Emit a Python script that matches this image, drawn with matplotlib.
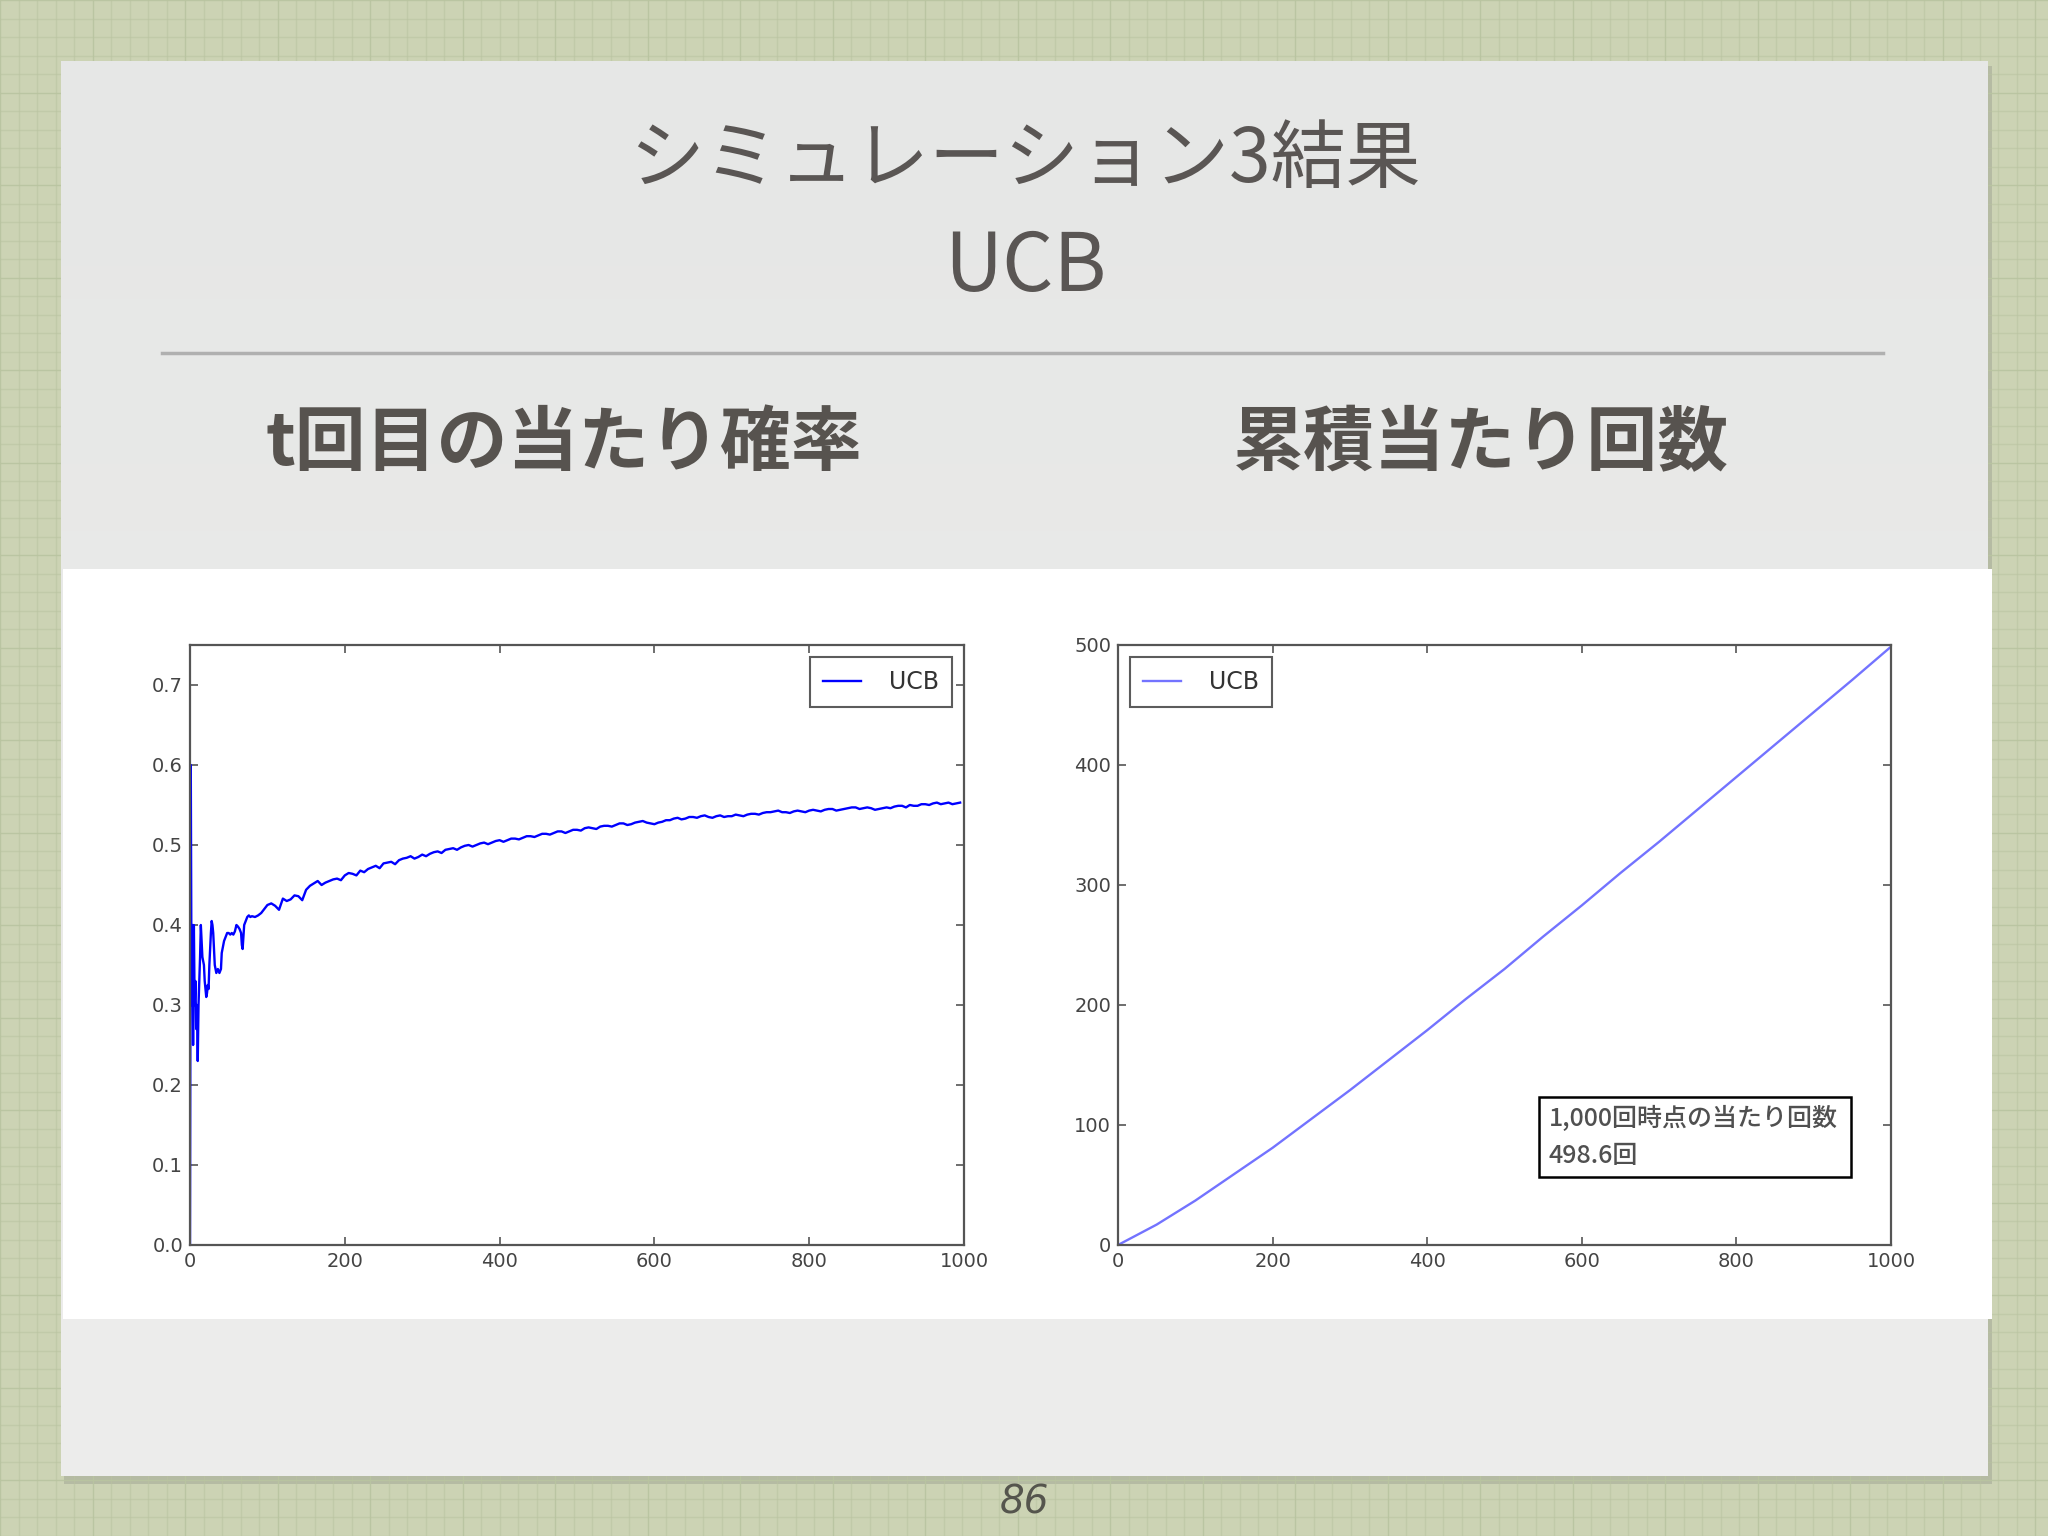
import matplotlib
matplotlib.use("Agg")
import matplotlib.pyplot as plt
from matplotlib.patches import Rectangle
import numpy as np

plt.rcParams['font.family'] = ['DejaVu Sans']
JP = ['Noto Sans CJK JP', 'DejaVu Sans']

# ---------------- data ----------------
title_main = "シミュレーション3結果"
title_sub = "UCB"
left_heading = "t回目の当たり確率"
right_heading = "累積当たり回数"
series_label = "UCB"
annot_line1 = "1,000回時点の当たり回数"
annot_line2 = "498.6回"
page_no = "86"

# early part (t = 0 .. 145), read point by point
t_early = [0, 1, 2, 3, 4, 5, 6, 7, 8, 9, 10, 11, 12, 13, 14, 15, 16, 17, 18, 19,
           20, 21, 22, 23, 24, 25, 26, 27, 28, 29, 30, 31, 32, 33, 34, 36, 38, 40,
           41, 42, 44, 46, 48, 50, 52, 54, 56, 58, 60, 62, 64, 66, 67, 68, 69, 70,
           72, 74, 76, 78, 80, 84, 88, 92, 96,
           100, 105, 110, 115, 120, 125, 130, 135, 140, 145]
p_early = [0.0, 0.6, 0.3, 0.4, 0.25, 0.4, 0.3, 0.33, 0.27, 0.3, 0.23, 0.3, 0.33, 0.36, 0.4, 0.38, 0.36, 0.355, 0.35, 0.33,
           0.32, 0.31, 0.315, 0.325, 0.32, 0.35, 0.37, 0.39, 0.405, 0.40, 0.39, 0.37, 0.35, 0.345, 0.34, 0.345, 0.34, 0.345,
           0.365, 0.37, 0.38, 0.385, 0.39, 0.39, 0.388, 0.39, 0.388, 0.392, 0.40, 0.398, 0.395, 0.39, 0.375, 0.37, 0.385, 0.40,
           0.405, 0.41, 0.412, 0.41, 0.411, 0.41, 0.412, 0.415, 0.42,
           0.425, 0.427, 0.424, 0.419, 0.433, 0.430, 0.432, 0.437, 0.436, 0.431]

# later part (t = 150, 155, ..., 995), read every 5 steps
p_late = [0.444, 0.449, 0.452, 0.455, 0.450, 0.453, 0.455, 0.457, 0.458, 0.456,
          0.462, 0.465, 0.464, 0.462, 0.468, 0.466, 0.470, 0.472, 0.474, 0.471,
          0.477, 0.478, 0.479, 0.476, 0.481, 0.483, 0.484, 0.486, 0.483, 0.485,
          0.488, 0.486, 0.489, 0.491, 0.492, 0.490, 0.494, 0.495, 0.496, 0.494,
          0.497, 0.499, 0.500, 0.498, 0.500, 0.502, 0.503, 0.501, 0.503, 0.505,
          0.506, 0.504, 0.506, 0.508, 0.508, 0.507, 0.509, 0.511, 0.511, 0.510,
          0.512, 0.514, 0.514, 0.513, 0.515, 0.517, 0.517, 0.515, 0.517, 0.519,
          0.519, 0.518, 0.521, 0.522, 0.521, 0.520, 0.523, 0.524, 0.524, 0.523,
          0.525, 0.527, 0.527, 0.525, 0.526, 0.528, 0.529, 0.530, 0.528, 0.527,
          0.526, 0.528, 0.529, 0.531, 0.531, 0.533, 0.534, 0.532, 0.533, 0.535,
          0.535, 0.534, 0.536, 0.537, 0.535, 0.534, 0.536, 0.537, 0.535, 0.536,
          0.536, 0.538, 0.537, 0.536, 0.538, 0.539, 0.539, 0.538, 0.540, 0.541,
          0.541, 0.542, 0.543, 0.541, 0.541, 0.540, 0.542, 0.543, 0.542, 0.541,
          0.543, 0.544, 0.543, 0.542, 0.544, 0.545, 0.545, 0.543, 0.544, 0.545,
          0.546, 0.547, 0.547, 0.545, 0.546, 0.547, 0.546, 0.544, 0.545, 0.546,
          0.547, 0.546, 0.548, 0.549, 0.549, 0.547, 0.550, 0.549, 0.549, 0.551,
          0.551, 0.550, 0.552, 0.553, 0.551, 0.552, 0.553, 0.551, 0.552, 0.553]
t_late = list(range(150, 1000, 5))

t_left = t_early + t_late
p_left = p_early + p_late

t_right = [0, 50, 100, 150, 200, 250, 300, 350, 400, 450, 500,
           550, 600, 650, 700, 750, 800, 850, 900, 950, 1000]
c_right = [0, 17, 37, 59, 81, 105, 129, 154, 179, 205, 230,
           257, 283, 310, 336, 363, 390, 417, 444, 471, 498.6]

left_yticks = [0.0, 0.1, 0.2, 0.3, 0.4, 0.5, 0.6, 0.7]
right_yticks = [0, 100, 200, 300, 400, 500]
xticks = [0, 200, 400, 600, 800, 1000]

# ---------------- figure ----------------
W, H = 2048, 1536
fig = plt.figure(figsize=(W / 100, H / 100), dpi=100)

bg = fig.add_axes([0, 0, 1, 1], zorder=-10)
bg.set_xlim(0, W)
bg.set_ylim(H, 0)
bg.axis('off')

# grid paper
bg.add_patch(Rectangle((0, 0), W, H, facecolor='#ccd3b4', edgecolor='none'))
step = 18.5
for i in range(int(W / step) + 2):
    x = i * step
    bg.plot([x, x], [0, H], color='#b9c4a0', lw=1.0, alpha=0.9 if i % 5 == 0 else 0.55)
for i in range(int(H / step) + 2):
    y = i * step
    bg.plot([0, W], [y, y], color='#b9c4a0', lw=1.0, alpha=0.9 if i % 5 == 0 else 0.55)

# slide panel with shadow
bg.add_patch(Rectangle((64, 66), 1928, 1418, facecolor='#9a9e90', edgecolor='none', alpha=0.45))
grad = np.linspace(0, 1, 256).reshape(-1, 1)
bg.imshow(grad, cmap=matplotlib.colors.LinearSegmentedColormap.from_list('g', ['#e6e7e6', '#ededec']),
          extent=(61, 1988, 1476, 61), aspect='auto', zorder=2)
bg.add_patch(Rectangle((63, 569), 1929, 750, facecolor='white', edgecolor='none', zorder=3))
bg.plot([162, 1883], [353, 353], color='#b0b0b0', lw=2.5, zorder=3)

def ftext(x, y, s, **kw):
    fig.text(x / W, 1 - y / H, s, **kw)

ftext(1025, 160, title_main, family=JP, fontsize=54, color='#5a5654', ha='center', va='center')
ftext(1025, 268, title_sub, family=JP, fontsize=58, color='#5a5654', ha='center', va='center')
ftext(564, 444, left_heading, family=JP, fontsize=51, color='#57534f', ha='center', va='center', weight='bold')
ftext(1481, 444, right_heading, family=JP, fontsize=51, color='#57534f', ha='center', va='center', weight='bold')
ftext(1024, 1503, page_no, fontsize=28, color='#55554d', ha='center', va='center', style='italic', weight='light')

# ---------------- axes ----------------
def style_axes(ax):
    for sp in ax.spines.values():
        sp.set_color('#555555')
        sp.set_linewidth(1.6)
    ax.tick_params(direction='in', length=6, width=1.2, color='#555555',
                   top=True, right=True, labelsize=14, labelcolor='#444444', pad=5)

def style_legend(leg):
    leg.get_frame().set_edgecolor('#333333')
    leg.get_frame().set_linewidth(1.5)
    for t in leg.get_texts():
        t.set_color('#333333')

axL = fig.add_axes([190 / W, 1 - 1245 / H, 774 / W, 600 / H], zorder=5)
axL.plot(t_left, p_left, color='#0000ff', lw=1.7, label=series_label)
axL.set_xlim(0, 1000)
axL.set_ylim(0, 0.75)
axL.set_xticks(xticks)
axL.set_yticks(left_yticks)
axL.set_yticklabels([f"{v:.1f}" for v in left_yticks])
style_axes(axL)
legL = axL.legend(loc='upper right', fontsize=17, handlelength=1.6, fancybox=False,
                  borderpad=0.55, handletextpad=1.2, borderaxespad=0.5)
style_legend(legL)

axR = fig.add_axes([1118 / W, 1 - 1245 / H, 773 / W, 600 / H], zorder=5)
axR.plot(t_right, c_right, color='#0000ff', alpha=0.55, lw=1.7, label=series_label)
axR.set_xlim(0, 1000)
axR.set_ylim(0, 500)
axR.set_xticks(xticks)
axR.set_yticks(right_yticks)
style_axes(axR)
legR = axR.legend(loc='upper left', fontsize=17, handlelength=1.6, fancybox=False,
                  borderpad=0.55, handletextpad=1.2, borderaxespad=0.5)
style_legend(legR)

axR.add_patch(Rectangle((0.545, 0.113), 0.403, 0.134, transform=axR.transAxes,
                        facecolor='white', edgecolor='black', lw=1.8, zorder=6))
axR.text(0.557, 0.21, annot_line1, transform=axR.transAxes, family=JP, fontsize=18,
         color='#505050', ha='left', va='center', zorder=7, weight='medium')
axR.text(0.557, 0.148, annot_line2, transform=axR.transAxes, family=JP, fontsize=18,
         color='#505050', ha='left', va='center', zorder=7, weight='medium')

fig.savefig('out.png', dpi=100)
